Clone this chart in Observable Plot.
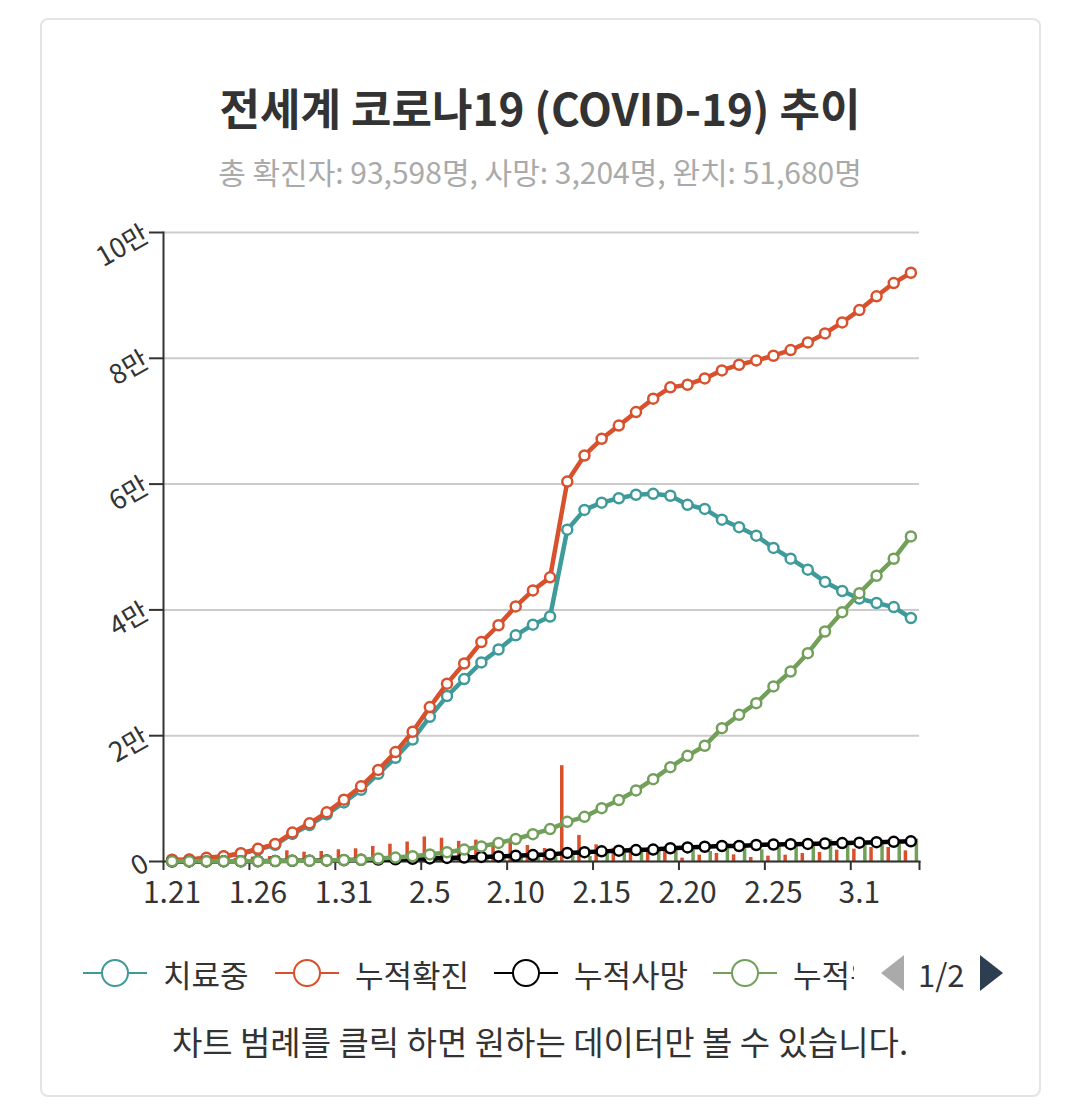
<!DOCTYPE html>
<html><head><meta charset="utf-8">
<script src="https://cdn.jsdelivr.net/npm/d3@7"></script>
<script src="https://cdn.jsdelivr.net/npm/@observablehq/plot@0.6"></script>
<style>
html,body{margin:0;padding:0;background:#fff;}
body{font-family:"Noto Sans CJK KR","Noto Sans",sans-serif;width:1071px;height:1112px;position:relative;overflow:hidden;}
#card{position:absolute;left:40px;top:18px;width:1001px;height:1079px;border:2px solid #e4e4e4;border-radius:8px;box-sizing:border-box;}
#title{position:absolute;left:40px;width:1000px;top:79px;text-align:center;font-weight:700;font-size:44px;line-height:56px;color:#333;}
#subtitle{position:absolute;left:40px;width:1000px;top:152px;text-align:center;font-size:30px;line-height:38px;color:#aaa;}
#chart{position:absolute;left:40px;top:200px;}
#legend{position:absolute;left:83px;top:951px;width:771px;height:44px;overflow:hidden;white-space:nowrap;}
.item{position:absolute;top:0;height:44px;display:flex;align-items:center;font-size:31px;color:#333;}
.item svg{margin-right:16px;flex:none;}
#pager{position:absolute;left:881px;top:951px;height:44px;display:flex;align-items:center;font-size:31px;color:#333;}
#caption{position:absolute;left:40px;width:1000px;top:1021px;text-align:center;font-size:33px;line-height:40px;color:#333;}
</style></head>
<body>
<div id="card"></div>
<div id="title"></div>
<div id="subtitle"></div>
<div id="chart"></div>
<div id="legend"></div>
<div id="pager"></div>
<div id="caption"></div>
<script>
const titleText = "전세계 코로나19 (COVID-19) 추이";
const subtitleText = "총 확진자: 93,598명, 사망: 3,204명, 완치: 51,680명";
const captionText = "차트 범례를 클릭 하면 원하는 데이터만 볼 수 있습니다.";

const labels = ["1.21","1.22","1.23","1.24","1.25","1.26","1.27","1.28","1.29","1.30","1.31",
  "2.1","2.2","2.3","2.4","2.5","2.6","2.7","2.8","2.9","2.10","2.11","2.12","2.13","2.14","2.15",
  "2.16","2.17","2.18","2.19","2.20","2.21","2.22","2.23","2.24","2.25","2.26","2.27","2.28","2.29",
  "3.1","3.2","3.3","3.4"];
const tickLabels = ["1.21","1.26","1.31","2.5","2.10","2.15","2.20","2.25","3.1"];

// 치료중
const treatment = [251,269,533,784,1240,1906,2657,4380,5807,7505,9391,
  11410,13950,16500,19400,23000,26300,29000,31650,33700,35950,37650,38950,52750,55900,57050,
  57750,58300,58450,58150,56700,56050,54350,53150,51800,49850,48150,46400,44450,43000,
  41800,41100,40450,38714];
// 누적확진
const confirmed = [282,314,581,846,1320,2014,2798,4593,6065,7818,9826,
  11953,14557,17391,20630,24554,28276,31481,34886,37558,40554,43103,45171,60400,64550,67200,
  69300,71450,73580,75380,75800,76800,78080,78980,79670,80410,81310,82530,83960,85710,
  87670,89850,91960,93598];
// 누적사망
const deaths = [6,17,18,26,41,56,80,106,132,170,213,
  259,304,362,426,492,565,638,724,813,910,1017,1115,1370,1480,1610,
  1720,1820,1900,2110,2240,2350,2460,2470,2620,2700,2760,2800,2860,2930,
  2990,3080,3130,3204];
// 누적완치
const recovered = [25,28,30,36,39,52,61,107,126,143,222,
  284,472,623,852,1124,1487,1900,2400,2950,3580,4350,5150,6300,7100,8480,
  9780,11300,13090,15000,16800,18400,21200,23320,25170,27830,30210,33120,36570,39640,
  42660,45430,48130,51680];
// 신규확진 (bars)
const newConfirmed = [0,32,267,265,474,694,784,1700,1480,1590,1860,
  2020,2385,2750,3100,3900,3700,3200,3400,2670,3000,2550,2070,15230,4150,2650,
  2100,2150,2130,1800,530,1010,1270,1060,640,850,1010,1270,1430,1800,
  1960,2230,2230,1700];
// 신규완치 (bars)
const newRecovered = [0,3,2,6,3,13,9,46,19,17,79,
  62,188,151,229,272,363,413,500,550,630,770,800,1150,800,1380,
  1300,1520,1790,1910,1800,1600,2800,2120,1850,2660,2380,2910,3450,3070,
  3020,2770,2700,3550];

const yTicks = [0,20000,40000,60000,80000,100000];

const TEAL = "#3f9a9a", ORANGE = "#d8502c", BLACK = "#000000", GREEN = "#72a05a";
const series = [
  {key:"treat", name:"치료중", color:TEAL},
  {key:"conf", name:"누적확진", color:ORANGE},
  {key:"death", name:"누적사망", color:BLACK},
  {key:"recov", name:"누적완치", color:GREEN}
];

const parse = s => { const [m,d] = s.split(".").map(Number); return new Date(Date.UTC(2020, m-1, d)); };
const data = labels.map((l,i) => ({label:l, date:parse(l), treat:treatment[i], conf:confirmed[i],
  death:deaths[i], recov:recovered[i], newConf:newConfirmed[i], newRecov:newRecovered[i]}));
const HALF = 12*3600*1000;
const x0 = new Date(+data[0].date - HALF), x1 = new Date(+data[data.length-1].date + HALF);
const labelDates = tickLabels.map(parse);
const labelOf = new Map(labelDates.map((d,i)=>[+d, tickLabels[i]]));
const boundaryDates = labelDates.map(d => new Date(+d - HALF)).concat([x1]);

document.getElementById("title").textContent = titleText;
document.getElementById("subtitle").textContent = subtitleText;
document.getElementById("caption").textContent = captionText;

const marks = [
  Plot.gridY({ticks: yTicks, stroke:"#cccccc", strokeOpacity:1, strokeWidth:2}),
  Plot.ruleX(data, {x:"date", y1:0, y2:"newConf", stroke:ORANGE, strokeWidth:3.5, dx:-5.5}),
  Plot.ruleX(data, {x:"date", y1:0, y2:"newRecov", stroke:GREEN, strokeWidth:3.5, dx:5.5}),
  Plot.axisY({ticks: yTicks, tickFormat: v => v === 0 ? "0" : (v/10000) + "만", tickSize:14, tickPadding:3,
    tickRotate:-30, fontSize:27, stroke:"#333", strokeWidth:2}),
  Plot.axisX({ticks: labelDates, tickFormat: d => labelOf.get(+d), tickSize:0, tickPadding:20, fontSize:30}),
  Plot.axisX({ticks: boundaryDates, tickFormat: () => "", tickSize:9, stroke:"#333", strokeWidth:2}),
  Plot.frame({anchor:"left", stroke:"#333", strokeWidth:2}),
  Plot.frame({anchor:"bottom", stroke:"#333", strokeWidth:2})
];
for (const s of series) {
  marks.push(Plot.line(data, {x:"date", y:s.key, stroke:s.color, strokeWidth:4.5}));
  marks.push(Plot.dot(data, {x:"date", y:s.key, r:5, fill:"white", stroke:s.color, strokeWidth:2.5}));
}

const chart = Plot.plot({
  width: 1000, height: 711,
  marginLeft: 123, marginRight: 121, marginTop: 32, marginBottom: 50,
  style: {fontFamily: '"Noto Sans CJK KR","Noto Sans",sans-serif', color:"#333", background:"transparent", overflow:"visible"},
  x: {type:"utc", domain:[x0, x1]},
  y: {domain:[0, 100000]},
  marks
});
document.getElementById("chart").appendChild(chart);

// legend
const legend = document.getElementById("legend");
const lefts = [0, 192, 411, 630];
series.forEach((s, i) => {
  const it = document.createElement("div");
  it.className = "item";
  it.style.left = lefts[i] + "px";
  it.innerHTML = `<svg width="64" height="32" viewBox="0 0 64 32"><line x1="0" y1="16" x2="64" y2="16" stroke="${s.color}" stroke-width="2"/><circle cx="32" cy="16" r="13" fill="white" stroke="${s.color}" stroke-width="2"/></svg>`;
  const t = document.createElement("span");
  t.textContent = s.name;
  it.appendChild(t);
  legend.appendChild(it);
});
const pager = document.getElementById("pager");
pager.innerHTML = `<svg width="23" height="36" viewBox="0 0 23 36"><polygon points="23,0 23,36 0,18" fill="#aaaaaa"/></svg><span style="margin:0 15px 0 14px">1/2</span><svg width="23" height="36" viewBox="0 0 23 36"><polygon points="0,0 0,36 23,18" fill="#2c3e50"/></svg>`;
</script>
</body></html>
